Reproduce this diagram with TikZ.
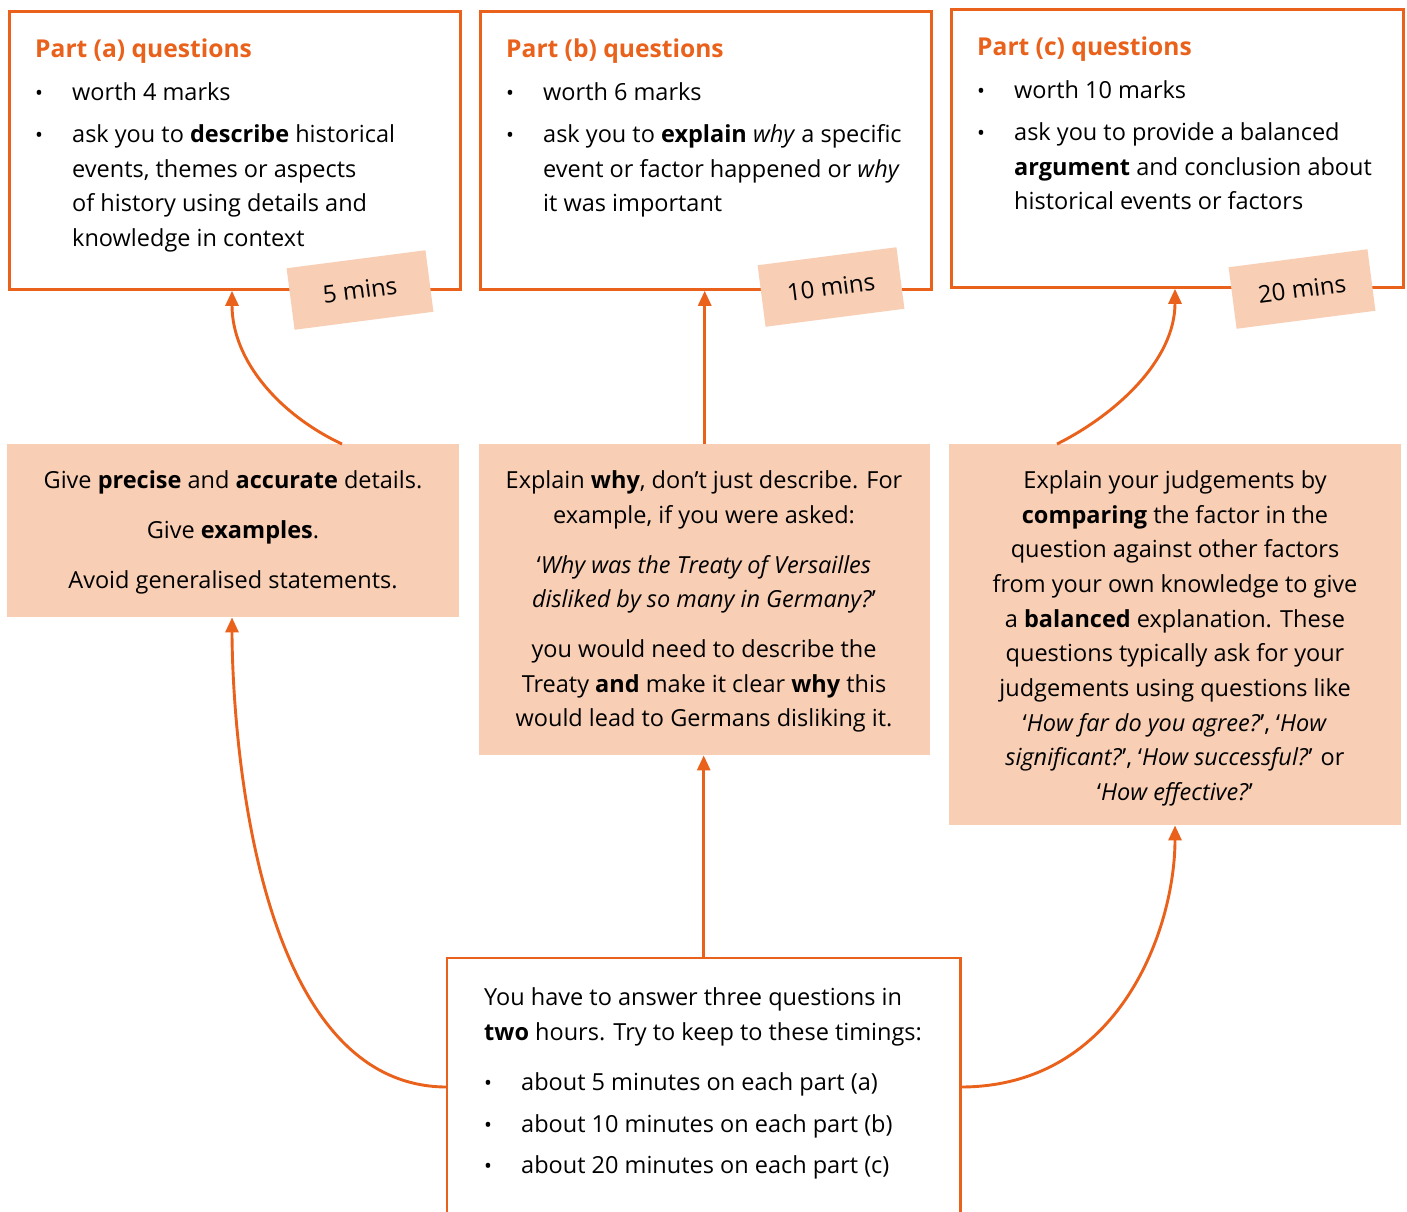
\documentclass[tikz,border=0pt]{standalone}
\usepackage{fontspec}
\setmainfont{Open Sans}
\usetikzlibrary{arrows.meta,calc}
\definecolor{orng}{RGB}{233,97,27}
\definecolor{peach}{RGB}{248,206,180}
\begin{document}
\begin{tikzpicture}[x=1pt,y=-1pt,
  qbox/.style={draw=orng,line width=2.8pt,fill=white,anchor=north west,inner sep=0pt},
  pbox/.style={fill=peach,anchor=north west,inner sep=0pt},
  tag/.style={fill=peach,minimum width=140pt,minimum height=62pt,rotate=7.4,inner sep=0pt,font=\fontsize{24}{28}\selectfont},
  tl/.style={inner sep=0pt,anchor=base west,font=\fontsize{23.5}{28}\selectfont},
  tc/.style={inner sep=0pt,anchor=base,font=\fontsize{23.5}{28}\selectfont},
  ttl/.style={inner sep=0pt,anchor=base west,text=orng,font=\fontsize{24.6}{28}\selectfont\bfseries},
  bul/.style={inner sep=0pt,anchor=base west,font=\fontsize{21}{24}\selectfont},
  conn/.style={draw=orng,line width=2.9pt,-{Triangle[length=15pt,width=13pt]}}
]
\useasboundingbox (0,0) rectangle (1407,1211);
\fill[white] (0,0) rectangle (1407,1211);

% top boxes
\node[qbox,minimum width=451pt,minimum height=278pt] (qa) at (8,10) {};
\node[qbox,minimum width=451pt,minimum height=278pt] (qb) at (479,10) {};
\node[qbox,minimum width=452pt,minimum height=278pt] (qc) at (950,8) {};

% middle boxes
\node[pbox,minimum width=452pt,minimum height=173pt] (ma) at (7,444) {};
\node[pbox,minimum width=451pt,minimum height=311pt] (mb) at (479,444) {};
\node[pbox,minimum width=452pt,minimum height=381pt] (mc) at (949,444) {};

% bottom box (open at the bottom)
\node[inner sep=0pt,anchor=north west,minimum width=513pt,minimum height=270pt] (tb) at (447,958) {};
\draw[orng,line width=2.8pt] (tb.south west) -- (tb.north west) -- (tb.north east) -- (tb.south east);

% time tags
\node[tag] (ka) at (360,290) {5 mins};
\node[tag] (kb) at (831,287) {10 mins};
\node[tag] (kc) at (1302,289) {20 mins};

% connectors
\coordinate (sa) at ([xshift=335pt]ma.north west);
\coordinate (ea) at ([xshift=224pt]qa.south west);
\draw[conn] (sa) .. controls +(-62,-29) and +(0,70) .. (ea);
\draw[conn] (mb.north) -- (mb.north |- qb.south);
\coordinate (sc) at ([xshift=108pt]mc.north west);
\coordinate (ec) at ([xshift=225pt]qc.south west);
\draw[conn] (sc) .. controls +(58,-29) and +(0,72) .. (ec);

\coordinate (bl) at ([yshift=-129pt]tb.north west);
\coordinate (br) at ([yshift=-129pt]tb.north east);
\coordinate (ta) at ([xshift=225pt]ma.south west);
\coordinate (tcc) at ([xshift=226pt]mc.south west);
\draw[conn] (bl) .. controls +(-207,0) and +(0,62) .. (ta);
\draw[conn] (tb.north) -- (tb.north |- mb.south);
\draw[conn] (br) .. controls +(160,0) and +(0,102) .. (tcc);

% text: box a
\node[ttl] (a0) at (35,57) {Part (a) questions};
\node[bul] (a1b) at (35,100) {•};
\node[tl] (a1) at (72,100) {worth 4 marks};
\node[bul] (a2b) at (35,142) {•};
\node[tl] (a2) at (72,142) {ask you to \textbf{describe} historical};
\node[tl] (a3) at (72,177) {events, themes or aspects};
\node[tl] (a4) at (72,211) {of history using details and};
\node[tl] (a5) at (72,246) {knowledge in context};

% text: box b
\node[ttl] (b0) at (506,57) {Part (b) questions};
\node[bul] (b1b) at (506,100) {•};
\node[tl] (b1) at (543,100) {worth 6 marks};
\node[bul] (b2b) at (506,142) {•};
\node[tl] (b2) at (543,142) {ask you to \textbf{explain} \textit{why} a specific};
\node[tl] (b3) at (543,177) {event or factor happened or \textit{why}};
\node[tl] (b4) at (543,211) {it was important};

% text: box c
\node[ttl] (c0) at (977,55) {Part (c) questions};
\node[bul] (c1b) at (977,98) {•};
\node[tl] (c1) at (1014,98) {worth 10 marks};
\node[bul] (c2b) at (977,140) {•};
\node[tl] (c2) at (1014,140) {ask you to provide a balanced};
\node[tl] (c3) at (1014,175) {\textbf{argument} and conclusion about};
\node[tl] (c4) at (1014,209) {historical events or factors};

% text: middle a
\node[tc] (m1) at (233,488) {Give \textbf{precise} and \textbf{accurate} details.};
\node[tc] (m2) at (233,538) {Give \textbf{examples}.};
\node[tc] (m3) at (233,588) {Avoid generalised statements.};

% text: middle b
\node[tc] (n1) at (704,488) {Explain \textbf{why}, don’t just describe. For};
\node[tc] (n2) at (704,523) {example, if you were asked:};
\node[tc] (n3) at (704,573) {‘\textit{Why was the Treaty of Versailles}};
\node[tc] (n4) at (704,607) {\textit{disliked by so many in Germany?}’};
\node[tc] (n5) at (704,657) {you would need to describe the};
\node[tc] (n6) at (704,692) {Treaty \textbf{and} make it clear \textbf{why} this};
\node[tc] (n7) at (704,726) {would lead to Germans disliking it.};

% text: middle c
\node[tc] (p1) at (1175,488) {Explain your judgements by};
\node[tc] (p2) at (1175,523) {\textbf{comparing} the factor in the};
\node[tc] (p3) at (1175,557) {question against other factors};
\node[tc] (p4) at (1175,592) {from your own knowledge to give};
\node[tc] (p5) at (1175,627) {a \textbf{balanced} explanation. These};
\node[tc] (p6) at (1175,661) {questions typically ask for your};
\node[tc] (p7) at (1175,696) {judgements using questions like};
\node[tc] (p8) at (1175,731) {‘\textit{How far do you agree?}’, ‘\textit{How}};
\node[tc] (p9) at (1175,765) {\textit{significant?}’, ‘\textit{How successful?}’ or};
\node[tc] (p10) at (1175,800) {‘\textit{How effective?}’};

% text: bottom
\node[tl] (q1) at (484,1005) {You have to answer three questions in};
\node[tl] (q2) at (484,1040) {\textbf{two} hours. Try to keep to these timings:};
\node[bul] (q3b) at (484,1090) {•};
\node[tl] (q3) at (521,1090) {about 5 minutes on each part (a)};
\node[bul] (q4b) at (484,1132) {•};
\node[tl] (q4) at (521,1132) {about 10 minutes on each part (b)};
\node[bul] (q5b) at (484,1173) {•};
\node[tl] (q5) at (521,1173) {about 20 minutes on each part (c)};
\end{tikzpicture}
\end{document}
